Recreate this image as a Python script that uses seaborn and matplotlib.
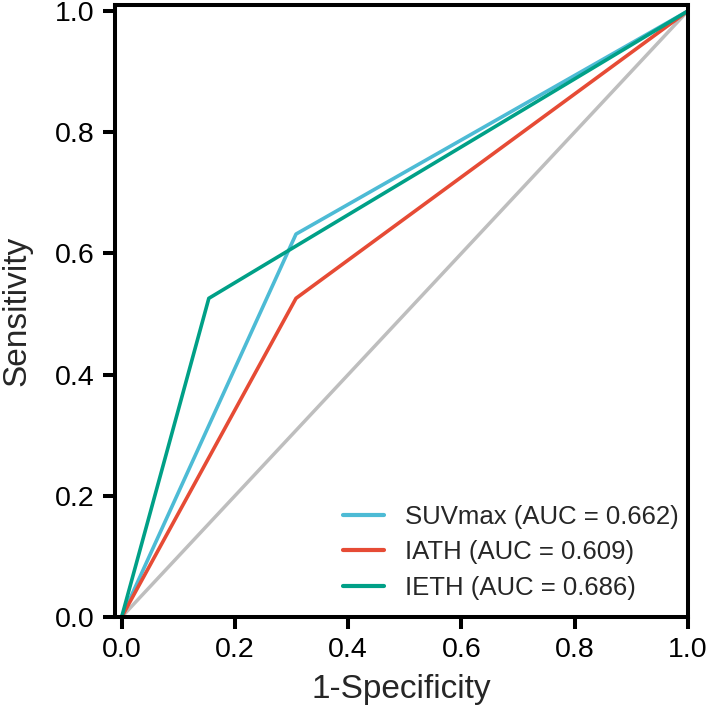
import numpy as np
import pandas as pd
import seaborn as sns
import matplotlib.pyplot as plt

# ROC points
fpr_suv = [0.0, 0.308, 1.0]
tpr_suv = [0.0, 0.632, 1.0]
fpr_iath = [0.0, 0.308, 1.0]
tpr_iath = [0.0, 0.526, 1.0]
fpr_ieth = [0.0, 0.154, 1.0]
tpr_ieth = [0.0, 0.526, 1.0]
labels = ['SUVmax (AUC = 0.662)', 'IATH (AUC = 0.609)', 'IETH (AUC = 0.686)']
colors = ['#4DBBD5', '#E64B35', '#00A087']
ticks = [0.0, 0.2, 0.4, 0.6, 0.8, 1.0]

sns.set_theme(style='ticks')
plt.rcParams['font.family'] = ['Liberation Sans', 'DejaVu Sans']

df = pd.concat([
    pd.DataFrame({'fpr': fpr_suv, 'tpr': tpr_suv, 'model': labels[0]}),
    pd.DataFrame({'fpr': fpr_iath, 'tpr': tpr_iath, 'model': labels[1]}),
    pd.DataFrame({'fpr': fpr_ieth, 'tpr': tpr_ieth, 'model': labels[2]}),
])

fig = plt.figure(figsize=(7.09, 7.2), dpi=100)
ax = fig.add_axes([0.162, 0.143, 0.808, 0.850])

# reference diagonal
ax.plot([0, 1], [0, 1], color='#BEBEBE', lw=2.5, zorder=1)

sns.lineplot(data=df, x='fpr', y='tpr', hue='model', palette=colors,
             sort=False, estimator=None, linewidth=2.6, ax=ax)

ax.set_xlim(-0.012, 1.0)
ax.set_ylim(0.0, 1.01)
ax.set_xticks(ticks)
ax.set_yticks(ticks)
ax.set_xticklabels([f'{v:.1f}' for v in ticks])
ax.set_yticklabels([f'{v:.1f}' for v in ticks])

for s in ax.spines.values():
    s.set_linewidth(2.9)
    s.set_color('black')
ax.tick_params(direction='out', length=8.5, width=2.9, labelsize=20.5,
               colors='black', pad=6)

ax.set_xlabel('1-Specificity', fontsize=24, labelpad=8)
ax.set_ylabel('Sensitivity', fontsize=24, labelpad=16)

leg = ax.legend(loc='lower right', bbox_to_anchor=(1.011, 0.003),
                frameon=False, fontsize=18.5,
                handlelength=1.6, handletextpad=0.8, borderaxespad=0.3,
                labelspacing=0.45, borderpad=0.3)
for line in leg.get_lines():
    line.set_linewidth(3.0)

plt.savefig('out.png', dpi=100)
